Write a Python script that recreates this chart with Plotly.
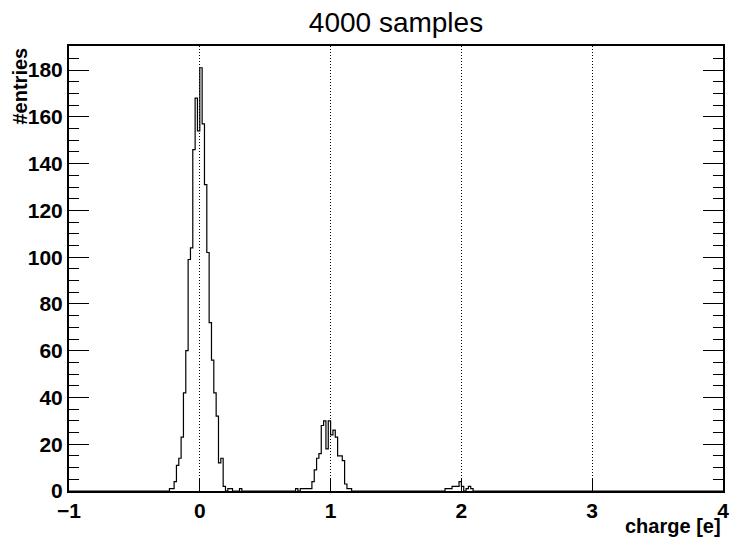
import numpy as np
import plotly.graph_objects as go

# ---- data ----
title_text = "4000 samples"
x_title = "charge [e]"
y_title = "#entries"

n_bins = 280
x_min = -1.0
x_max = 4.0

peak0_first_bin = 43
peak0_counts = [1, 1, 4, 11, 14, 23, 42, 60, 99, 104, 146, 168, 154, 181,
                157, 131, 102, 72, 56, 42, 32, 12, 14, 2, 0, 1, 1, 0, 0, 0, 1]

peak1_first_bin = 97
peak1_counts = [1, 0, 1, 1, 1, 1, 1, 4, 9, 14, 16, 28, 30, 18, 30,
                24, 26, 23, 15, 15, 13, 3, 1, 1]

peak2_first_bin = 161
peak2_counts = [1, 1, 1, 2, 2, 2, 4, 2, 0, 1, 2, 1]

x_tick_vals = [-1, 0, 1, 2, 3, 4]
y_tick_vals = [0, 20, 40, 60, 80, 100, 120, 140, 160, 180]
y_max = 190.3

# ---- build histogram ----
counts = np.zeros(n_bins)
for first, vals in [(peak0_first_bin, peak0_counts),
                    (peak1_first_bin, peak1_counts),
                    (peak2_first_bin, peak2_counts)]:
    counts[first:first + len(vals)] = vals

edges = np.linspace(x_min, x_max, n_bins + 1)
ys = np.append(counts, counts[-1])

fig = go.Figure()
fig.add_trace(go.Scatter(
    x=edges, y=ys, mode="lines",
    line=dict(shape="hv", color="black", width=1.2),
    showlegend=False, hoverinfo="skip",
))

font_family = "Liberation Sans, Arial, Helvetica, sans-serif"

fig.update_layout(
    width=730, height=539,
    paper_bgcolor="white", plot_bgcolor="white",
    margin=dict(l=69, r=7, t=46, b=48, pad=0, autoexpand=False),
    title=dict(text=title_text, x=0.5, xanchor="center", xref="paper",
               y=1 - 22 / 539, yanchor="middle", yref="container",
               font=dict(family=font_family, size=28, color="black")),
    font=dict(family=font_family, color="black"),
)

fig.update_xaxes(
    range=[x_min, x_max], automargin=False,
    tickmode="array", tickvals=x_tick_vals,
    ticks="inside", ticklen=13, tickwidth=1, tickcolor="black",
    showline=True, linewidth=2, linecolor="black", mirror=True,
    showgrid=True, gridcolor="black", griddash="1px,2px", gridwidth=1,
    zeroline=False,
    tickfont=dict(family=font_family, size=21, color="black", weight="bold"),
)

fig.update_yaxes(
    range=[0, y_max], automargin=False,
    tickmode="array", tickvals=y_tick_vals,
    ticks="inside", ticklen=20, tickwidth=1, tickcolor="black",
    minor=dict(dtick=5, tick0=0, ticks="inside", ticklen=10, tickcolor="black", tickwidth=1),
    showline=True, linewidth=2, linecolor="black", mirror="ticks",
    showgrid=False, zeroline=False,
    tickfont=dict(family=font_family, size=21, color="black", weight="bold"),
)

fig.add_annotation(
    text=y_title, xref="paper", yref="paper",
    x=-50 / 654, y=1, xanchor="center", yanchor="top",
    textangle=-90, showarrow=False,
    font=dict(family=font_family, size=20, color="black", weight="bold"),
)
fig.add_annotation(
    text=x_title, xref="paper", yref="paper",
    x=1, y=-22 / 445, xanchor="right", yanchor="top",
    showarrow=False,
    font=dict(family=font_family, size=20, color="black", weight="bold"),
)

fig.write_html("out.html",
               config={"displayModeBar": False},
               post_script="document.body.style.margin='0';document.body.style.overflow='hidden';")
